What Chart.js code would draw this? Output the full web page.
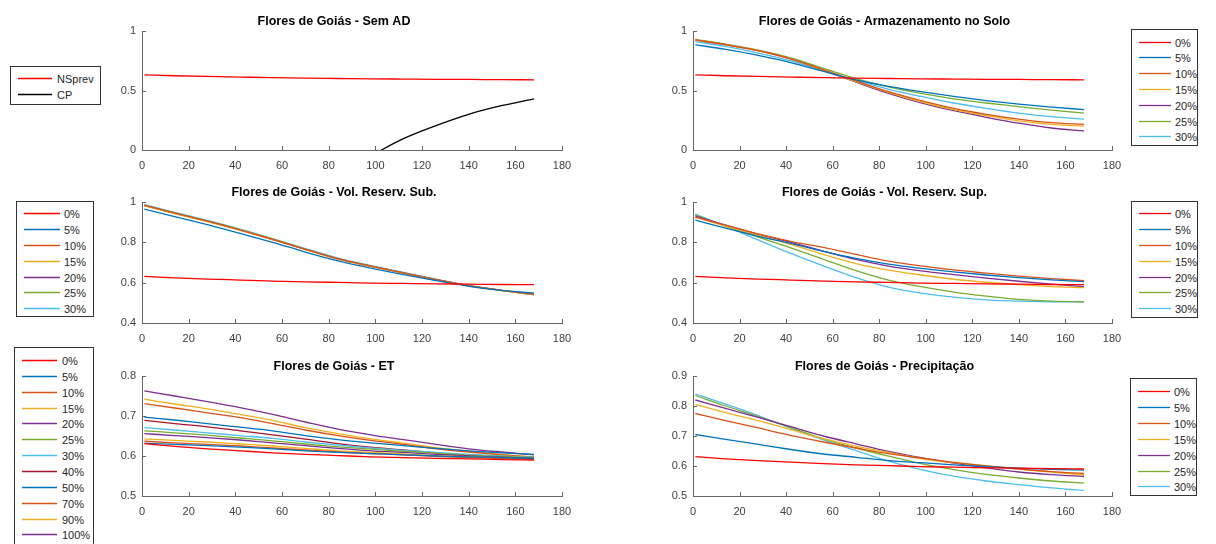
<!DOCTYPE html>
<html>
<head>
<meta charset="utf-8">
<script src="https://cdn.jsdelivr.net/npm/chart.js@4.4.0/dist/chart.umd.min.js"></script>
<style>
  body { margin: 0; background: #fff; width: 1216px; height: 544px; overflow: hidden; position: relative;
         font-family: "Liberation Sans", Arial, sans-serif; }
  .panel { position: absolute; }
  svg.legend { position: absolute; overflow: visible; }
</style>
</head>
<body>
<script>
// Data (x = days, one value per day below)
const days = [1, 14, 28, 42, 56, 70, 84, 98, 112, 126, 140, 154, 168];
const xTickValues = [0, 20, 40, 60, 80, 100, 120, 140, 160, 180];

const pctLabels = ["0%", "5%", "10%", "15%", "20%", "25%", "30%"];
const etLabels = ["0%", "5%", "10%", "15%", "20%", "25%", "30%", "40%", "50%", "70%", "90%", "100%"];

// reference curve, repeated as "0%" in every panel
const nsPrev = [0.631, 0.624, 0.618, 0.613, 0.608, 0.604, 0.601, 0.598, 0.596, 0.594, 0.593, 0.591, 0.590];
const cp = [null, null, null, null, null, null, null, -0.05, 0.095, 0.205, 0.30, 0.372, 0.43];

// Armazenamento no Solo
const soil5 = [0.885, 0.845, 0.795, 0.735, 0.66, 0.59, 0.535, 0.49, 0.45, 0.415, 0.385, 0.36, 0.34];
const soil10 = [0.925, 0.885, 0.835, 0.765, 0.675, 0.58, 0.49, 0.415, 0.35, 0.30, 0.26, 0.23, 0.215];
const soil15 = [0.925, 0.885, 0.835, 0.765, 0.672, 0.575, 0.485, 0.405, 0.34, 0.29, 0.245, 0.215, 0.20];
const soil20 = [0.925, 0.885, 0.835, 0.765, 0.67, 0.57, 0.475, 0.395, 0.33, 0.275, 0.225, 0.185, 0.16];
const soil25 = [0.93, 0.89, 0.84, 0.775, 0.685, 0.60, 0.53, 0.475, 0.43, 0.395, 0.365, 0.335, 0.31];
const soil30 = [0.91, 0.87, 0.815, 0.75, 0.665, 0.585, 0.51, 0.45, 0.395, 0.35, 0.31, 0.28, 0.26];

// Vol. Reserv. Sub.
const sub5 = [0.965, 0.928, 0.888, 0.845, 0.80, 0.752, 0.708, 0.672, 0.64, 0.61, 0.582, 0.562, 0.548];
const sub10 = [0.983, 0.945, 0.905, 0.862, 0.815, 0.765, 0.718, 0.682, 0.648, 0.615, 0.585, 0.562, 0.542];
const sub15 = [0.981, 0.943, 0.903, 0.860, 0.813, 0.764, 0.717, 0.681, 0.647, 0.614, 0.584, 0.561, 0.541];
const sub20 = [0.982, 0.944, 0.904, 0.861, 0.814, 0.765, 0.718, 0.682, 0.648, 0.615, 0.585, 0.562, 0.542];
const sub25 = [0.984, 0.946, 0.906, 0.863, 0.816, 0.766, 0.719, 0.683, 0.649, 0.616, 0.585, 0.562, 0.541];
const sub30 = [0.987, 0.949, 0.909, 0.866, 0.819, 0.769, 0.722, 0.685, 0.651, 0.617, 0.586, 0.562, 0.540];

// Vol. Reserv. Sup.
const sup5 = [0.91, 0.87, 0.83, 0.795, 0.755, 0.72, 0.692, 0.671, 0.653, 0.638, 0.625, 0.614, 0.605];
const sup10 = [0.925, 0.885, 0.842, 0.805, 0.775, 0.74, 0.707, 0.683, 0.663, 0.647, 0.632, 0.62, 0.61];
const sup15 = [0.925, 0.88, 0.835, 0.79, 0.74, 0.695, 0.662, 0.638, 0.617, 0.602, 0.59, 0.58, 0.575];
const sup20 = [0.93, 0.885, 0.84, 0.80, 0.757, 0.715, 0.682, 0.658, 0.64, 0.623, 0.607, 0.593, 0.58];
const sup25 = [0.935, 0.88, 0.826, 0.773, 0.716, 0.66, 0.613, 0.58, 0.553, 0.533, 0.517, 0.508, 0.505];
const sup30 = [0.94, 0.88, 0.812, 0.745, 0.683, 0.625, 0.578, 0.548, 0.528, 0.515, 0.508, 0.505, 0.505];

// ET
const et5 = [0.632, 0.629, 0.626, 0.622, 0.618, 0.613, 0.609, 0.606, 0.603, 0.600, 0.598, 0.596, 0.594];
const et10 = [0.637, 0.633, 0.629, 0.625, 0.620, 0.615, 0.610, 0.606, 0.603, 0.599, 0.596, 0.594, 0.592];
const et15 = [0.643, 0.639, 0.635, 0.630, 0.625, 0.619, 0.613, 0.609, 0.605, 0.601, 0.598, 0.595, 0.593];
const et20 = [0.656, 0.651, 0.646, 0.640, 0.633, 0.626, 0.619, 0.613, 0.609, 0.604, 0.600, 0.597, 0.594];
const et25 = [0.663, 0.658, 0.652, 0.645, 0.638, 0.630, 0.623, 0.617, 0.612, 0.607, 0.602, 0.599, 0.596];
const et30 = [0.671, 0.665, 0.658, 0.651, 0.644, 0.635, 0.627, 0.620, 0.614, 0.609, 0.604, 0.600, 0.597];
const et40 = [0.689, 0.681, 0.673, 0.663, 0.653, 0.642, 0.631, 0.622, 0.615, 0.608, 0.601, 0.596, 0.592];
const et50 = [0.697, 0.690, 0.681, 0.672, 0.663, 0.651, 0.641, 0.633, 0.626, 0.619, 0.613, 0.608, 0.604];
const et70 = [0.731, 0.720, 0.708, 0.696, 0.681, 0.665, 0.651, 0.639, 0.629, 0.618, 0.610, 0.603, 0.597];
const et90 = [0.742, 0.730, 0.718, 0.704, 0.689, 0.671, 0.656, 0.643, 0.632, 0.621, 0.612, 0.604, 0.598];
const et100 = [0.763, 0.750, 0.736, 0.721, 0.704, 0.685, 0.667, 0.653, 0.641, 0.629, 0.618, 0.610, 0.603];

// Precipitação
const pr5 = [0.705, 0.689, 0.672, 0.655, 0.640, 0.629, 0.618, 0.611, 0.604, 0.598, 0.593, 0.589, 0.586];
const pr10 = [0.775, 0.751, 0.727, 0.702, 0.680, 0.660, 0.641, 0.626, 0.612, 0.600, 0.590, 0.581, 0.575];
const pr15 = [0.805, 0.778, 0.751, 0.721, 0.691, 0.666, 0.645, 0.625, 0.611, 0.600, 0.590, 0.580, 0.570];
const pr20 = [0.820, 0.792, 0.762, 0.731, 0.700, 0.674, 0.649, 0.628, 0.610, 0.594, 0.580, 0.571, 0.565];
const pr25 = [0.835, 0.800, 0.765, 0.728, 0.690, 0.660, 0.633, 0.608, 0.588, 0.572, 0.560, 0.550, 0.543];
const pr30 = [0.840, 0.806, 0.768, 0.726, 0.687, 0.651, 0.616, 0.588, 0.566, 0.550, 0.538, 0.527, 0.519];

// MATLAB colours
const RED = "#ff0000", BLUE = "#0072bd", ORANGE = "#d95319", YELLOW = "#edb120",
      PURPLE = "#7e2f8e", GREEN = "#77ac30", LBLUE = "#4dbeee", DRED = "#a2142f";
const pctColors = [RED, BLUE, ORANGE, YELLOW, PURPLE, GREEN, LBLUE];
const etColors = [RED, BLUE, ORANGE, YELLOW, PURPLE, GREEN, LBLUE, DRED, BLUE, ORANGE, YELLOW, PURPLE];

const FONT = "'Liberation Sans', Arial, sans-serif";
const AXIS = "#666666";
const TICKTXT = "#404040";
const yW = 36, xH = 24, padR = 18;
const titleFont = 12.5, titlePad = { top: 4, bottom: 2 };
const titleH = titleFont * 1.2 + titlePad.top + titlePad.bottom;
const SVGNS = "http://www.w3.org/2000/svg";

// MATLAB style ticks pointing into the plot
const innerTicks = {
  id: "innerTicks",
  afterDatasetsDraw(chart) {
    const { ctx, chartArea: a, scales: { x, y } } = chart;
    ctx.save();
    ctx.strokeStyle = AXIS;
    ctx.lineWidth = 1;
    ctx.beginPath();
    x.ticks.forEach(t => {
      const px = Math.round(x.getPixelForValue(t.value)) + 0.5;
      ctx.moveTo(px, a.bottom); ctx.lineTo(px, a.bottom - 4);
    });
    y.ticks.forEach(t => {
      const py = Math.round(y.getPixelForValue(t.value)) + 0.5;
      ctx.moveTo(a.left, py); ctx.lineTo(a.left + 4, py);
    });
    ctx.stroke();
    ctx.restore();
  }
};

function svgEl(name, attrs) {
  const el = document.createElementNS(SVGNS, name);
  for (const k in attrs) el.setAttribute(k, attrs[k]);
  return el;
}

function makeLegend(lg, labels, colors) {
  const svg = svgEl("svg", { class: "legend", width: lg.width, height: lg.height });
  svg.style.left = lg.left + "px";
  svg.style.top = lg.top + "px";
  svg.appendChild(svgEl("rect", { x: 0.5, y: 0.5, width: lg.width - 1, height: lg.height - 1,
                                   fill: "#ffffff", stroke: "#333333", "stroke-width": 1 }));
  labels.forEach((lab, i) => {
    const cy = Math.round(lg.first + i * lg.step - lg.top) + 0.5;
    svg.appendChild(svgEl("line", { x1: lg.lineFrom, x2: lg.lineTo, y1: cy, y2: cy,
                                    stroke: colors[i], "stroke-width": 1.3 }));
    const t = svgEl("text", { x: lg.textX, y: cy + 4, fill: "#262626",
                              "font-family": "Liberation Sans, Arial, sans-serif", "font-size": 11 });
    t.textContent = lab;
    svg.appendChild(t);
  });
  document.body.appendChild(svg);
}

function makePanel(p) {
  const div = document.createElement("div");
  div.className = "panel";
  div.style.left = (p.left - yW) + "px";
  div.style.top = (p.top - titleH) + "px";
  div.style.width = (yW + p.width + padR) + "px";
  div.style.height = (titleH + p.height + xH) + "px";
  const canvas = document.createElement("canvas");
  div.appendChild(canvas);
  document.body.appendChild(div);

  new Chart(canvas.getContext("2d"), {
    type: "line",
    data: {
      datasets: p.series.map((vals, i) => ({
        label: p.labels[i],
        data: days.map((d, j) => ({ x: d, y: vals[j] })),
        borderColor: p.colors[i],
        borderWidth: 1.3,
        pointRadius: 0,
        cubicInterpolationMode: "monotone",
        spanGaps: false,
        fill: false
      }))
    },
    options: {
      responsive: true,
      maintainAspectRatio: false,
      animation: false,
      layout: { padding: { top: 0, right: padR, bottom: 0, left: 0 } },
      plugins: {
        legend: { display: false },
        tooltip: { enabled: false },
        title: {
          display: true,
          text: p.title,
          color: "#000",
          font: { family: FONT, size: titleFont, weight: "bold" },
          padding: titlePad
        }
      },
      scales: {
        x: {
          type: "linear",
          min: 0, max: 180,
          grid: { display: false, drawTicks: false },
          border: { display: true, color: AXIS, width: 1 },
          afterBuildTicks: s => { s.ticks = xTickValues.map(v => ({ value: v })); },
          afterFit: s => { s.height = xH; s.paddingLeft = 0; s.paddingRight = 0; },
          ticks: { autoSkip: false, maxRotation: 0, padding: 9, color: TICKTXT,
                   font: { family: FONT, size: 11 }, callback: v => String(v) }
        },
        y: {
          type: "linear",
          min: p.yTicks[0], max: p.yTicks[p.yTicks.length - 1],
          grid: { display: false, drawTicks: false },
          border: { display: true, color: AXIS, width: 1 },
          afterBuildTicks: s => { s.ticks = p.yTicks.map(v => ({ value: v })); },
          afterFit: s => { s.width = yW; s.paddingTop = 0; s.paddingBottom = 0; },
          ticks: { padding: 6, color: TICKTXT, font: { family: FONT, size: 11 }, callback: v => String(v) }
        }
      }
    },
    plugins: [innerTicks]
  });

  makeLegend(p.legend, p.labels, p.colors);
}

makePanel({
  title: "Flores de Goiás - Sem AD",
  left: 142, top: 31, width: 420, height: 119,
  yTicks: [0, 0.5, 1],
  labels: ["NSprev", "CP"], colors: [RED, "#000000"],
  series: [nsPrev, cp],
  legend: { left: 10, top: 66, width: 91, height: 39, first: 77.5, step: 16, lineFrom: 8, lineTo: 42, textX: 47 }
});

makePanel({
  title: "Flores de Goiás - Armazenamento no Solo",
  left: 693, top: 31, width: 419, height: 119,
  yTicks: [0, 0.5, 1],
  labels: pctLabels, colors: pctColors,
  series: [nsPrev, soil5, soil10, soil15, soil20, soil25, soil30],
  legend: { left: 1131, top: 29, width: 67, height: 117, first: 41.5, step: 15.8, lineFrom: 8, lineTo: 40, textX: 44 }
});

makePanel({
  title: "Flores de Goiás - Vol. Reserv. Sub.",
  left: 142, top: 202, width: 420, height: 121,
  yTicks: [0.4, 0.6, 0.8, 1],
  labels: pctLabels, colors: pctColors,
  series: [nsPrev, sub5, sub10, sub15, sub20, sub25, sub30],
  legend: { left: 16, top: 201, width: 78, height: 116, first: 213.3, step: 15.8, lineFrom: 8, lineTo: 44, textX: 48 }
});

makePanel({
  title: "Flores de Goiás - Vol. Reserv. Sup.",
  left: 693, top: 202, width: 419, height: 121,
  yTicks: [0.4, 0.6, 0.8, 1],
  labels: pctLabels, colors: pctColors,
  series: [nsPrev, sup5, sup10, sup15, sup20, sup25, sup30],
  legend: { left: 1131, top: 201, width: 67, height: 117, first: 213.3, step: 15.8, lineFrom: 8, lineTo: 40, textX: 44 }
});

makePanel({
  title: "Flores de Goiás - ET",
  left: 142, top: 376, width: 420, height: 120,
  yTicks: [0.5, 0.6, 0.7, 0.8],
  labels: etLabels, colors: etColors,
  series: [nsPrev, et5, et10, et15, et20, et25, et30, et40, et50, et70, et90, et100],
  legend: { left: 14, top: 347, width: 80, height: 204, first: 360, step: 15.85, lineFrom: 8, lineTo: 43, textX: 48 }
});

makePanel({
  title: "Flores de Goiás - Precipitação",
  left: 693, top: 376, width: 419, height: 120,
  yTicks: [0.5, 0.6, 0.7, 0.8, 0.9],
  labels: pctLabels, colors: pctColors,
  series: [nsPrev, pr5, pr10, pr15, pr20, pr25, pr30],
  legend: { left: 1130, top: 378, width: 67, height: 118, first: 391, step: 15.9, lineFrom: 8, lineTo: 40, textX: 44 }
});
</script>
</body>
</html>
